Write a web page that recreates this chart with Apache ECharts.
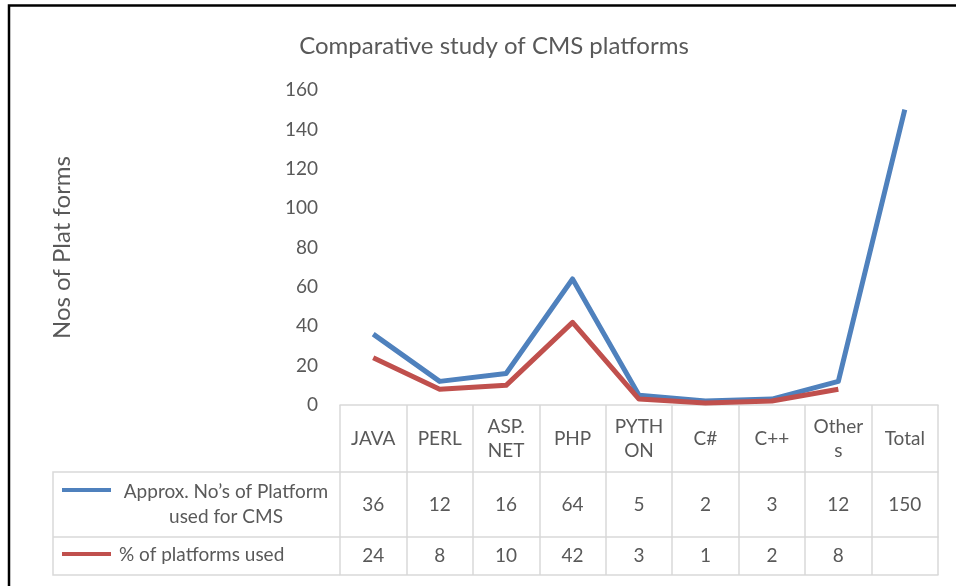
<!DOCTYPE html>
<html>
<head>
<meta charset="utf-8">
<script src="https://cdn.jsdelivr.net/npm/echarts@6/dist/echarts.min.js"></script>
<style>
  html, body { margin: 0; padding: 0; background: #fff; }
  #cms_chart { width: 956px; height: 586px; }
</style>
</head>
<body>
<div id="cms_chart"></div>
<script>
const categories = ['JAVA', 'PERL', 'ASP.\nNET', 'PHP', 'PYTH\nON', 'C#', 'C++', 'Other\ns', 'Total'];
const approxCounts = [36, 12, 16, 64, 5, 2, 3, 12, 150];
const percentUsed = [24, 8, 10, 42, 3, 1, 2, 8, null];
const yTicks = [0, 20, 40, 60, 80, 100, 120, 140, 160];

const seriesNames = ['Approx. No\u2019s of Platform used for CMS', '% of platforms used'];
const colors = ['#4f81bd', '#c0504d'];

const FONT = 'Lato, "Open Sans", sans-serif';
const TXT = '#595959';
const GRID_LINE = '#d9d9d9';

// grid / table layout
const gridLeft = 340, gridRight = 18, gridTop = 90, gridBottom = 181;
const headerH = 67, row1H = 65, row2H = 38;
const tableLeft = 53;

let cmsChart;

document.addEventListener("DOMContentLoaded", () => {
    drawCmsChart();
});

const valueAxis = (offset, values, margin) => ({
    type: 'category',
    position: 'bottom',
    data: categories,
    offset,
    axisLine: { show: true, lineStyle: { color: GRID_LINE, width: 1.5 } },
    axisTick: { show: false },
    axisLabel: {
        interval: 0,
        margin,
        verticalAlign: 'middle',
        fontFamily: FONT,
        fontSize: 19,
        color: TXT,
        formatter: (v, i) => values[i] == null ? '' : String(values[i])
    }
});

const drawCmsChart = () => {
    const chartDom = document.getElementById('cms_chart');
    cmsChart = echarts.init(chartDom);

    const W = 956;
    const axisY = 586 - gridBottom;
    const row1Y = axisY + headerH;
    const row2Y = row1Y + row1H;
    const bottomY = row2Y + row2H;

    const option = {
        animation: false,
        title: {
            text: 'Comparative study of CMS platforms',
            left: 489,
            top: 29,
            textAlign: 'center',
            textStyle: { fontFamily: FONT, fontSize: 24, fontWeight: 'normal', color: TXT }
        },
        grid: { left: gridLeft, right: gridRight, top: gridTop, bottom: gridBottom },
        xAxis: [
            {
                type: 'category',
                position: 'bottom',
                data: categories,
                boundaryGap: true,
                axisLine: { show: true, lineStyle: { color: GRID_LINE, width: 1.5 } },
                axisTick: {
                    show: true,
                    interval: 0,
                    length: headerH + row1H + row2H,
                    lineStyle: { color: GRID_LINE, width: 1.5 }
                },
                axisLabel: {
                    interval: 0,
                    margin: headerH / 2,
                    verticalAlign: 'middle',
                    lineHeight: 24,
                    fontFamily: FONT,
                    fontSize: 19,
                    color: TXT
                }
            },
            valueAxis(headerH, approxCounts, row1H / 2),
            valueAxis(headerH + row1H, percentUsed, row2H / 2),
            {
                type: 'category',
                position: 'bottom',
                data: categories,
                offset: headerH + row1H + row2H,
                axisLine: { show: true, lineStyle: { color: GRID_LINE, width: 1.5 } },
                axisTick: { show: false },
                axisLabel: { show: false }
            }
        ],
        yAxis: {
            type: 'value',
            min: yTicks[0],
            max: yTicks[yTicks.length - 1],
            interval: 20,
            name: 'Nos of Plat forms',
            nameLocation: 'middle',
            nameGap: 266,
            nameTextStyle: { fontFamily: FONT, fontSize: 24, color: TXT },
            axisLine: { show: false },
            axisTick: { show: false },
            splitLine: { show: false },
            axisLabel: { margin: 22, fontFamily: FONT, fontSize: 19, color: TXT }
        },
        series: [
            {
                name: seriesNames[0],
                type: 'line',
                data: approxCounts,
                symbol: 'none',
                lineStyle: { color: colors[0], width: 5, join: 'round' },
                itemStyle: { color: colors[0] }
            },
            {
                name: seriesNames[1],
                type: 'line',
                data: percentUsed,
                symbol: 'none',
                lineStyle: { color: colors[1], width: 5, join: 'round' },
                itemStyle: { color: colors[1] }
            }
        ],
        graphic: [
            // outer chart border (top + left visible)
            {
                type: 'rect',
                shape: { x: 9, y: 5.5, width: W + 20, height: 600 },
                style: { fill: 'none', stroke: '#000', lineWidth: 2.5 },
                silent: true
            },
            // legend column of the data table
            {
                type: 'polyline',
                shape: { points: [[gridLeft, row1Y], [tableLeft, row1Y], [tableLeft, bottomY], [gridLeft, bottomY]] },
                style: { fill: 'none', stroke: GRID_LINE, lineWidth: 1.5 },
                silent: true
            },
            {
                type: 'line',
                shape: { x1: tableLeft, y1: row2Y, x2: gridLeft, y2: row2Y },
                style: { stroke: GRID_LINE, lineWidth: 1.5 },
                silent: true
            },
            // legend keys
            {
                type: 'line',
                shape: { x1: 62, y1: row1Y + 18, x2: 111, y2: row1Y + 18 },
                style: { stroke: colors[0], lineWidth: 4 },
                silent: true
            },
            {
                type: 'text',
                x: 226, y: row1Y + row1H / 2,
                style: {
                    text: 'Approx. No\u2019s of Platform\nused for CMS',
                    align: 'center', verticalAlign: 'middle',
                    lineHeight: 25,
                    font: '19px ' + FONT, fill: TXT
                },
                silent: true
            },
            {
                type: 'line',
                shape: { x1: 62, y1: row2Y + 17, x2: 111, y2: row2Y + 17 },
                style: { stroke: colors[1], lineWidth: 4 },
                silent: true
            },
            {
                type: 'text',
                x: 119, y: row2Y + row2H / 2 - 1,
                style: {
                    text: seriesNames[1],
                    align: 'left', verticalAlign: 'middle',
                    font: '19px ' + FONT, fill: TXT
                },
                silent: true
            }
        ]
    };

    cmsChart.setOption(option);
}
</script>
</body>
</html>
